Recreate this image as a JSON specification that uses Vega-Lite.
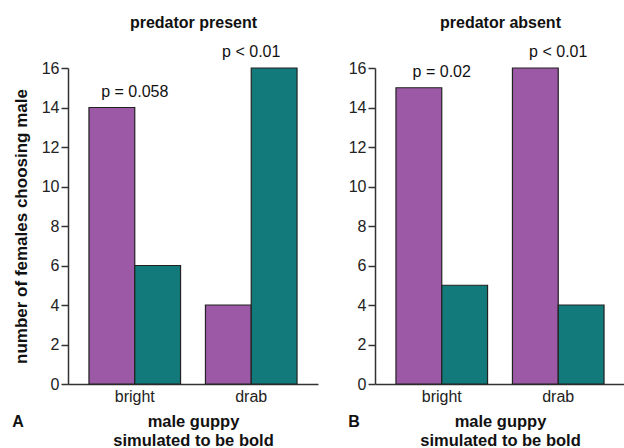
{
  "$schema": "https://vega.github.io/schema/vega-lite/v6.json",
  "padding": {"left": 12, "top": 14, "right": 0, "bottom": 0},
  "background": "white",
  "spacing": 30,
  "config": {
    "font": "Liberation Sans",
    "view": {"stroke": null},
    "axis": {
      "domainColor": "#333333",
      "domainWidth": 1.5,
      "tickColor": "#333333",
      "tickWidth": 1.5,
      "labelColor": "#222222",
      "titleColor": "#111111",
      "grid": false
    }
  },
  "datasets": {
    "present_bars": [
      {"male": "bright", "chosen": "bright male", "count": 14},
      {"male": "bright", "chosen": "drab male", "count": 6},
      {"male": "drab", "chosen": "bright male", "count": 4},
      {"male": "drab", "chosen": "drab male", "count": 16}
    ],
    "absent_bars": [
      {"male": "bright", "chosen": "bright male", "count": 15},
      {"male": "bright", "chosen": "drab male", "count": 5},
      {"male": "drab", "chosen": "bright male", "count": 16},
      {"male": "drab", "chosen": "drab male", "count": 4}
    ],
    "present_p": [
      {"male": "bright", "count": 14, "label": "p = 0.058"},
      {"male": "drab", "count": 16, "label": "p < 0.01"}
    ],
    "absent_p": [
      {"male": "bright", "count": 15, "label": "p = 0.02"},
      {"male": "drab", "count": 16, "label": "p < 0.01"}
    ]
  },
  "hconcat": [
    {
      "width": 250,
      "height": 316,
      "title": {"text": "A", "orient": "bottom", "anchor": "start", "frame": "bounds", "offset": -35, "fontSize": 16, "fontWeight": "bold", "align": "left", "color": "#111111"},
      "layer": [
        {
          "data": {"name": "present_bars"},
          "mark": {"type": "bar", "stroke": "#222222", "strokeWidth": 1.2},
          "encoding": {
            "x": {"field": "male", "type": "nominal", "sort": ["bright", "drab"],
              "scale": {"paddingInner": 0.2137, "paddingOuter": 0.18},
              "axis": {"orient": "bottom", "title": ["male guppy", "simulated to be bold"], "labelAngle": 0, "ticks": false, "labelFontSize": 16, "labelPadding": 4, "titleFontSize": 16.5, "titleFontWeight": "bold", "titlePadding": 9, "titleLineHeight": 19}},
            "xOffset": {"field": "chosen", "type": "nominal", "sort": ["bright male", "drab male"], "scale": {"paddingInner": 0, "paddingOuter": 0}},
            "y": {"field": "count", "type": "quantitative", "scale": {"domain": [0, 16], "nice": false},
              "axis": {"title": "number of females choosing male", "values": [0, 2, 4, 6, 8, 10, 12, 14, 16], "tickSize": 7, "labelPadding": 2, "labelFontSize": 16, "titleFontSize": 17, "titleFontWeight": "bold", "titlePadding": 11}},
            "color": {"field": "chosen", "type": "nominal", "scale": {"domain": ["bright male", "drab male"], "range": ["#9b59a6", "#127a7a"]}, "legend": null}
          }
        },
        {
          "data": {"name": "present_p"},
          "mark": {"type": "text", "fontSize": 16, "dy": -11, "baseline": "alphabetic", "color": "#111111"},
          "encoding": {
            "x": {"field": "male", "type": "nominal", "sort": ["bright", "drab"],
              "scale": {"paddingInner": 0.2137, "paddingOuter": 0.18},
              "axis": {"orient": "top", "title": "predator present", "domain": false, "ticks": false, "labels": false, "titlePadding": 38, "titleFontSize": 16, "titleFontWeight": "bold"}},
            "y": {"field": "count", "type": "quantitative", "scale": {"domain": [0, 16], "nice": false},
              "axis": {"title": "number of females choosing male", "values": [0, 2, 4, 6, 8, 10, 12, 14, 16], "tickSize": 7, "labelPadding": 2, "labelFontSize": 16, "titleFontSize": 17, "titleFontWeight": "bold", "titlePadding": 11}},
            "text": {"field": "label"}
          }
        }
      ],
      "resolve": {"axis": {"x": "independent"}}
    },
    {
      "width": 250,
      "height": 316,
      "title": {"text": "B", "orient": "bottom", "anchor": "start", "frame": "bounds", "offset": -35, "fontSize": 16, "fontWeight": "bold", "align": "left", "color": "#111111"},
      "layer": [
        {
          "data": {"name": "absent_bars"},
          "mark": {"type": "bar", "stroke": "#222222", "strokeWidth": 1.2},
          "encoding": {
            "x": {"field": "male", "type": "nominal", "sort": ["bright", "drab"],
              "scale": {"paddingInner": 0.2137, "paddingOuter": 0.18},
              "axis": {"orient": "bottom", "title": ["male guppy", "simulated to be bold"], "labelAngle": 0, "ticks": false, "labelFontSize": 16, "labelPadding": 4, "titleFontSize": 16.5, "titleFontWeight": "bold", "titlePadding": 9, "titleLineHeight": 19}},
            "xOffset": {"field": "chosen", "type": "nominal", "sort": ["bright male", "drab male"], "scale": {"paddingInner": 0, "paddingOuter": 0}},
            "y": {"field": "count", "type": "quantitative", "scale": {"domain": [0, 16], "nice": false},
              "axis": {"title": null, "values": [0, 2, 4, 6, 8, 10, 12, 14, 16], "tickSize": 7, "labelPadding": 2, "labelFontSize": 16}},
            "color": {"field": "chosen", "type": "nominal", "scale": {"domain": ["bright male", "drab male"], "range": ["#9b59a6", "#127a7a"]}, "legend": null}
          }
        },
        {
          "data": {"name": "absent_p"},
          "mark": {"type": "text", "fontSize": 16, "dy": -11, "baseline": "alphabetic", "color": "#111111"},
          "encoding": {
            "x": {"field": "male", "type": "nominal", "sort": ["bright", "drab"],
              "scale": {"paddingInner": 0.2137, "paddingOuter": 0.18},
              "axis": {"orient": "top", "title": "predator absent", "domain": false, "ticks": false, "labels": false, "titlePadding": 38, "titleFontSize": 16, "titleFontWeight": "bold"}},
            "y": {"field": "count", "type": "quantitative", "scale": {"domain": [0, 16], "nice": false},
              "axis": {"title": null, "values": [0, 2, 4, 6, 8, 10, 12, 14, 16], "tickSize": 7, "labelPadding": 2, "labelFontSize": 16}},
            "text": {"field": "label"}
          }
        }
      ],
      "resolve": {"axis": {"x": "independent"}}
    }
  ]
}
